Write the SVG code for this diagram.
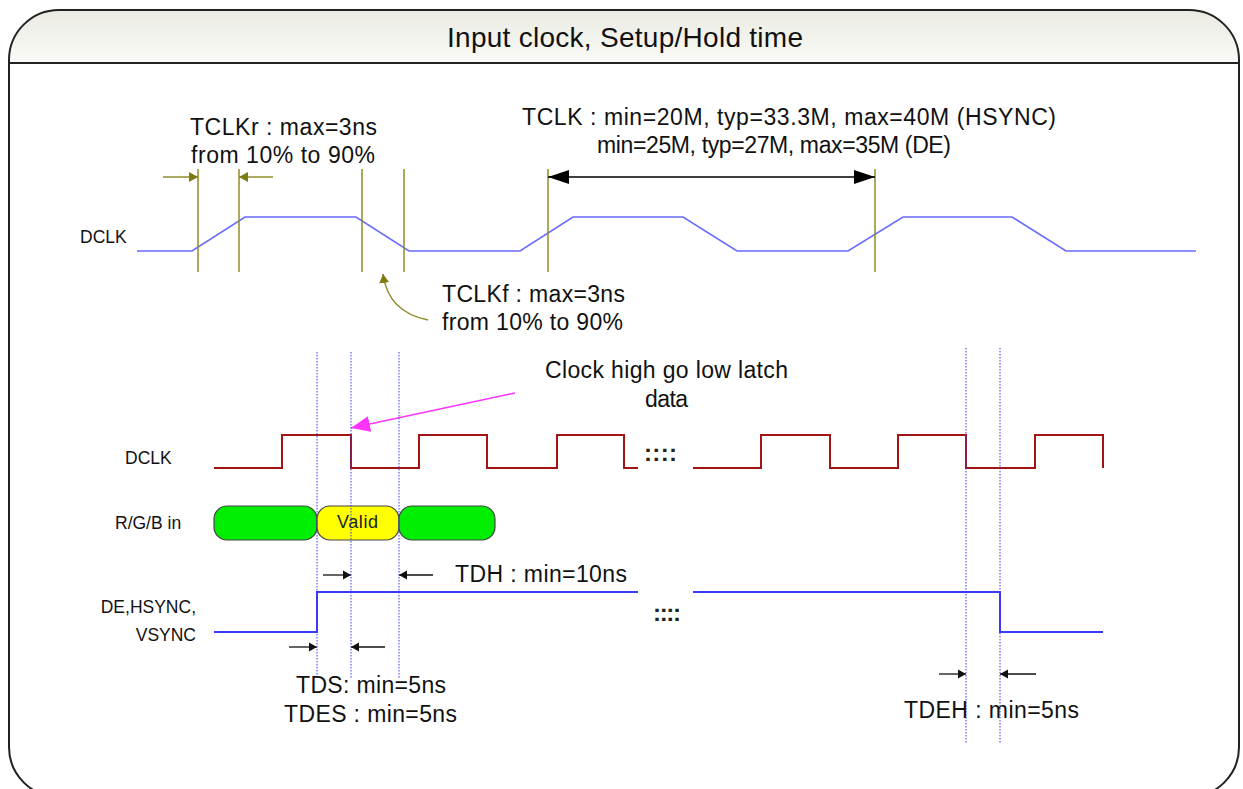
<svg xmlns="http://www.w3.org/2000/svg" width="1243" height="789" viewBox="0 0 1243 789">
<defs>
<linearGradient id="hdr" gradientUnits="userSpaceOnUse" x1="0" y1="10" x2="0" y2="63">
<stop offset="0" stop-color="#ebebe3"/>
<stop offset="1" stop-color="#fafaf7"/>
</linearGradient>
<clipPath id="hclip"><rect x="0" y="0" width="1243" height="63"/></clipPath>
<marker id="ol" markerUnits="userSpaceOnUse" markerWidth="10" markerHeight="10" refX="9" refY="5" orient="auto"><path d="M0,0 L9,5 L0,10 z" fill="#7d7a10"/></marker>
<marker id="bk" markerUnits="userSpaceOnUse" markerWidth="9" markerHeight="10" refX="8" refY="5" orient="auto"><path d="M0,0.5 L8,5 L0,9.5 z" fill="#111"/></marker>
<marker id="bkL" markerUnits="userSpaceOnUse" markerWidth="22" markerHeight="16" refX="21" refY="8" orient="auto-start-reverse"><path d="M0,1 L21,8 L0,15 z" fill="#000"/></marker>
<marker id="mg" markerUnits="userSpaceOnUse" markerWidth="20" markerHeight="16" refX="19" refY="8" orient="auto"><path d="M0,0 L19,8 L0,16 z" fill="#ff33ff"/></marker>
</defs>
<style>
.t{font-family:"Liberation Sans",Arial,sans-serif;font-size:23px;fill:#111}
.lb{font-family:"Liberation Sans",Arial,sans-serif;font-size:17.5px;fill:#111}
.cl{font-family:"Liberation Sans",Arial,sans-serif;font-size:24px;font-weight:bold;fill:#222}
.ol{stroke:#8f8b2a;stroke-width:1.5;fill:none}
.dot{stroke:#3434ff;stroke-width:1;stroke-dasharray:1.5 1.5;fill:none}
.ar{stroke:#111;stroke-width:1.3;fill:none}
.pill{stroke:#444;stroke-width:1.2}
</style>

<g id="frame">
<rect x="9" y="10" width="1230" height="787" rx="50" ry="50" fill="url(#hdr)" clip-path="url(#hclip)"/>
<rect x="9" y="10" width="1230" height="787" rx="50" ry="50" fill="none" stroke="#222" stroke-width="2"/>
<line x1="9" y1="63" x2="1239" y2="63" stroke="#222" stroke-width="2"/>
<text x="447" y="47" font-family="'Liberation Sans',Arial,sans-serif" font-size="28" fill="#111" textLength="356">Input clock, Setup/Hold time</text>
</g>

<g id="top-dclk">
<text class="lb" x="80" y="243">DCLK</text>
<path d="M137,251 L192,251 L245,217 L356,217 L409,251 L520,251 L573,217 L683,217 L737,251 L848,251 L903,217 L1012,217 L1066,251 L1196,251" fill="none" stroke="#6a6aff" stroke-width="1.6"/>
</g>

<g id="top-guides">
<line class="ol" x1="198" y1="169" x2="198" y2="272"/>
<line class="ol" x1="239" y1="169" x2="239" y2="272"/>
<line class="ol" x1="362" y1="169" x2="362" y2="272"/>
<line class="ol" x1="404" y1="169" x2="404" y2="272"/>
<line class="ol" x1="548" y1="169" x2="548" y2="272"/>
<line class="ol" x1="875" y1="169" x2="875" y2="272"/>
</g>

<g id="connectors">
<line class="ol" x1="163" y1="177" x2="198" y2="177" marker-end="url(#ol)"/>
<line class="ol" x1="273" y1="177" x2="239" y2="177" marker-end="url(#ol)"/>
<path class="ol" d="M428,320 Q388,312 383,274" marker-end="url(#ol)"/>
<line x1="548" y1="177" x2="875" y2="177" stroke="#000" stroke-width="1.5" marker-start="url(#bkL)" marker-end="url(#bkL)"/>
<line x1="515" y1="393" x2="351" y2="428" stroke="#ff33ff" stroke-width="1.5" marker-end="url(#mg)"/>
<line class="ar" x1="323" y1="575" x2="351" y2="575" marker-end="url(#bk)"/>
<line class="ar" x1="433" y1="575" x2="399" y2="575" marker-end="url(#bk)"/>
<line class="ar" x1="289" y1="647" x2="317" y2="647" marker-end="url(#bk)"/>
<line class="ar" x1="385" y1="647" x2="351" y2="647" marker-end="url(#bk)"/>
<line class="ar" x1="939" y1="674" x2="966" y2="674" marker-end="url(#bk)"/>
<line class="ar" x1="1036" y1="674" x2="1000" y2="674" marker-end="url(#bk)"/>
</g>

<g id="top-labels">
<text class="t" x="190" y="135" textLength="187">TCLKr : max=3ns</text>
<text class="t" x="191" y="163" textLength="184">from 10% to 90%</text>
<text class="t" x="522" y="125" textLength="534">TCLK : min=20M, typ=33.3M, max=40M (HSYNC)</text>
<text class="t" x="597" y="153" textLength="354">min=25M, typ=27M, max=35M (DE)</text>
<text class="t" x="442" y="302" textLength="183">TCLKf : max=3ns</text>
<text class="t" x="442" y="330" textLength="181">from 10% to 90%</text>
<text class="t" x="545" y="378" textLength="243">Clock high go low latch</text>
<text class="t" x="645" y="407" textLength="43">data</text>
</g>

<g id="low-dclk">
<text class="lb" x="125" y="464">DCLK</text>
<path d="M214,468 H282 V435 H351 V468 H419 V435 H487 V468 H557 V435 H624 V468 H638 M693,468 H761 V435 H830 V468 H898 V435 H966 V468 H1035 V435 H1103 V468" fill="none" stroke="#a31515" stroke-width="2"/>
<text class="cl" x="644" y="461" textLength="33">::::</text>
</g>

<g id="rgb">
<text class="lb" x="115" y="529">R/G/B in</text>
<rect class="pill" x="214" y="506" width="103" height="34" rx="13" fill="#00ee00"/>
<rect class="pill" x="317" y="506" width="82" height="34" rx="13" fill="#ffff00"/>
<rect class="pill" x="399" y="506" width="96" height="34" rx="13" fill="#00ee00"/>
<text x="337" y="528" font-family="'Liberation Sans',Arial,sans-serif" font-size="18" fill="#222" textLength="41">Valid</text>
</g>

<g id="de">
<text class="lb" x="196" y="613" text-anchor="end">DE,HSYNC,</text>
<text class="lb" x="196" y="641" text-anchor="end">VSYNC</text>
<path d="M214,632 H317 V592 H638 M693,592 H1000 V632 H1103" fill="none" stroke="#3a3aff" stroke-width="2"/>
<text class="cl" x="653" y="621" textLength="28">::::</text>
</g>

<g id="dotted-guides">
<line class="dot" x1="317" y1="352" x2="317" y2="678"/>
<line class="dot" x1="351" y1="352" x2="351" y2="678"/>
<line class="dot" x1="399" y1="352" x2="399" y2="678"/>
<line class="dot" x1="966" y1="348" x2="966" y2="743"/>
<line class="dot" x1="1000" y1="348" x2="1000" y2="743"/>
</g>

<g id="low-labels">
<text class="t" x="455" y="582" textLength="172">TDH : min=10ns</text>
<text class="t" x="296" y="693" textLength="150">TDS: min=5ns</text>
<text class="t" x="284" y="722" textLength="173">TDES : min=5ns</text>
<text class="t" x="904" y="718" textLength="175">TDEH : min=5ns</text>
</g>
</svg>
